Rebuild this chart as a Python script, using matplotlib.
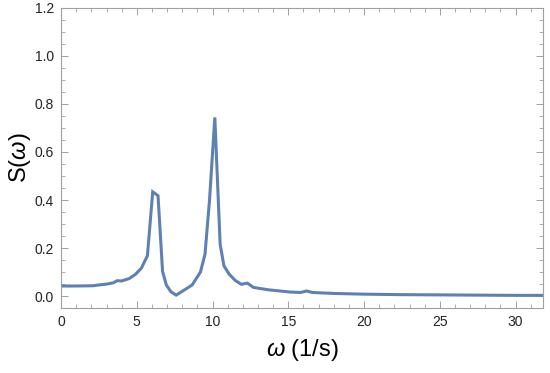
import matplotlib
matplotlib.use("Agg")
import matplotlib.pyplot as plt
from matplotlib.ticker import MultipleLocator

plt.rcParams["font.family"] = ["Liberation Sans", "DejaVu Sans"]
plt.rcParams["mathtext.fontset"] = "custom"
plt.rcParams["mathtext.it"] = "Liberation Sans:italic"
plt.rcParams["mathtext.rm"] = "Liberation Sans"

# datos
omega = [0.0, 1.0, 2.1, 2.45, 3.0, 3.44, 3.7, 4.0, 4.5, 4.9, 5.3, 5.7, 6.05, 6.4,
         6.7, 6.95, 7.25, 7.6, 8.2, 8.65, 9.2, 9.5, 9.8, 10.15, 10.5, 10.75, 11.1,
         11.5, 11.9, 12.3, 12.7, 13.7, 15.1, 15.8, 16.2, 16.6, 18.0, 20.0, 22.5,
         25.0, 27.5, 30.0, 32.0]
S = [0.042, 0.042, 0.043, 0.046, 0.050, 0.055, 0.064, 0.063, 0.073, 0.090, 0.116,
     0.168, 0.434, 0.418, 0.103, 0.046, 0.018, 0.004, 0.028, 0.046, 0.100, 0.174,
     0.40, 0.744, 0.216, 0.126, 0.091, 0.065, 0.049, 0.054, 0.036, 0.026, 0.017,
     0.015, 0.021, 0.015, 0.011, 0.008, 0.006, 0.005, 0.004, 0.003, 0.003]

fig = plt.figure(figsize=(5.5, 3.73), dpi=100)
ax = fig.add_axes([0.111, 0.174, 0.876, 0.805])

ax.plot(omega, S, color="#5E81B5", linewidth=2.2, solid_joinstyle="miter")

ax.set_xlim(0, 31.8)
ax.set_ylim(-0.05, 1.2)
ax.xaxis.set_major_locator(MultipleLocator(5))
ax.xaxis.set_minor_locator(MultipleLocator(1))
ax.yaxis.set_major_locator(MultipleLocator(0.2))
ax.yaxis.set_minor_locator(MultipleLocator(0.05))
ax.yaxis.set_major_formatter(matplotlib.ticker.FormatStrFormatter("%.1f"))

for s in ax.spines.values():
    s.set_color("#a0a0a0")
    s.set_linewidth(0.8)
ax.tick_params(which="both", direction="in", top=True, right=True,
               color="#a0a0a0", labelsize=10, labelcolor="#222222")
ax.tick_params(which="major", length=5, width=0.7, pad=5)
ax.tick_params(which="minor", length=3, width=0.6)

ax.set_xlabel(r"$\mathit{\omega}$ (1/s)", fontsize=17, labelpad=6)
ax.set_ylabel(r"S($\mathit{\omega}$)", fontsize=17, labelpad=1)

fig.savefig("out.png", dpi=100)
